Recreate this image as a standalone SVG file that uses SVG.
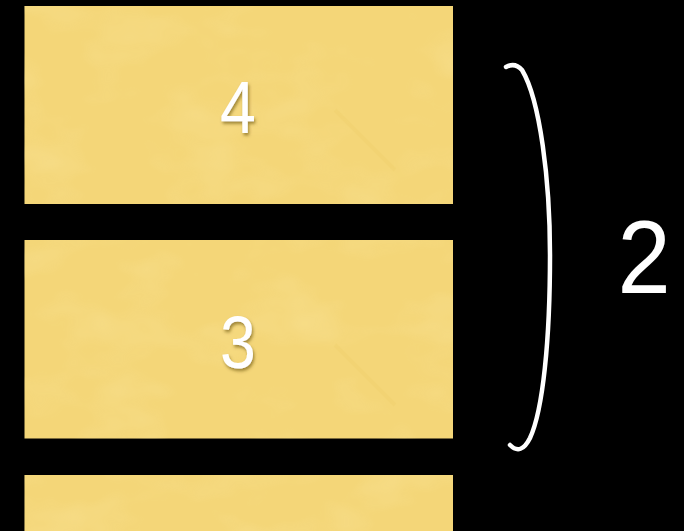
<svg xmlns="http://www.w3.org/2000/svg" width="684" height="531" viewBox="0 0 684 531">
<style>
.card{fill:#F4D678}
.tex{opacity:0.35}
.num{font-family:"Liberation Sans",Arial,sans-serif;fill:#fff;text-anchor:middle}
.brace{fill:none;stroke:#fff;stroke-width:4.5;stroke-linecap:round}
</style>
<defs>
<filter id="shadow" x="-30%" y="-30%" width="160%" height="160%">
<feDropShadow dx="1.5" dy="2.5" stdDeviation="1.8" flood-color="#5a4300" flood-opacity="0.55"/>
</filter>
<filter id="grain" x="0" y="0" width="100%" height="100%">
<feTurbulence type="fractalNoise" baseFrequency="0.012 0.02" numOctaves="3" seed="7"/>
<feColorMatrix type="matrix" values="0 0 0 0 0.98  0 0 0 0 0.86  0 0 0 0 0.45  0 0 0 1.6 -0.75"/>
</filter>
</defs>
<rect width="684" height="531" fill="#000"/>
<g id="node-4">
<rect class="card" x="24.5" y="6" width="428.5" height="198"/>
<rect class="tex" x="24.5" y="6" width="428.5" height="198" filter="url(#grain)"/>
<path d="M335 110 L395 170" stroke="#E9C860" stroke-width="4" opacity="0.18" fill="none"/>
<text class="num" transform="translate(238,133) scale(0.86,1)" font-size="75" filter="url(#shadow)">4</text>
</g>
<g id="node-3">
<rect class="card" x="24.5" y="240" width="428.5" height="198.5"/>
<rect class="tex" x="24.5" y="240" width="428.5" height="198.5" filter="url(#grain)"/>
<path d="M335 345 L395 405" stroke="#E9C860" stroke-width="4" opacity="0.18" fill="none"/>
<text class="num" transform="translate(238,368) scale(0.86,1)" font-size="75" filter="url(#shadow)">3</text>
</g>
<g id="node-bottom">
<rect class="card" x="24.5" y="475" width="428.5" height="60"/>
<rect class="tex" x="24.5" y="475" width="428.5" height="56" filter="url(#grain)"/>
</g>
<g id="connectors">
<path class="brace" d="M506 67 Q515 62 522 70 C540 100 550 180 550 255 C550 340 543 410 530 438 Q521 456 510 445"/>
</g>
<g id="label-2">
<text class="num" transform="translate(644,293) scale(0.92,1)" font-size="104">2</text>
</g>
</svg>
